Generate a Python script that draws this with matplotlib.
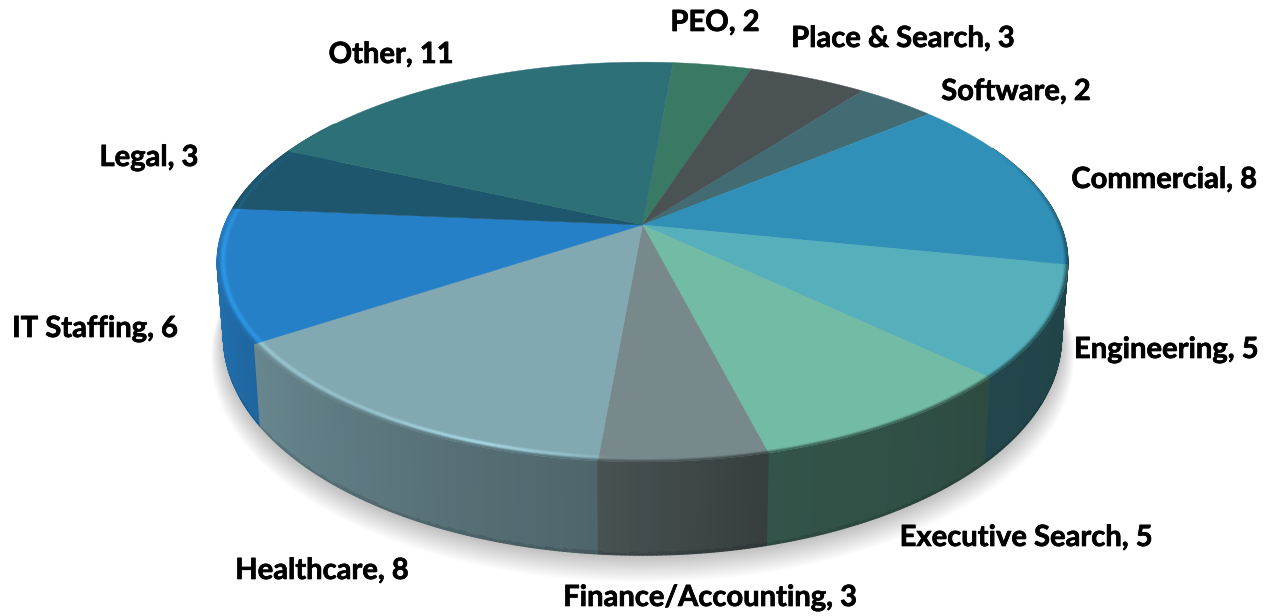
import numpy as np
from matplotlib import pyplot as plt
from matplotlib import patheffects
from matplotlib.collections import PolyCollection
from matplotlib.colors import to_rgb

etiquetas = ["PEO", "Place & Search", "Software", "Commercial", "Engineering", "Executive Search",
             "Finance/Accounting", "Healthcare", "IT Staffing", "Legal", "Other"]
valores = [2, 3, 2, 8, 5, 5, 3, 8, 6, 3, 11]
colores = ["#3a7a64", "#4a5254", "#436b74", "#3190b8", "#55b0bc", "#72bba4",
           "#78898b", "#82a8b2", "#2680c8", "#1e566e", "#2d7077"]
pos_etiquetas = [(715, 23), (903, 39), (1016, 92), (1164, 180), (1166, 350), (1026, 538),
                 (710, 598), (322, 571), (95, 329), (149, 158), (391, 55)]

# geometria del disco en perspectiva (pixeles de la imagen)
CX, CY = 642.5, 225
ANCHO, ALTO, PERSP = 418, 193, 0.185
INICIO = 85

# sombreado del lateral y del bisel segun el angulo
ANG_LADO = [-215, -162, -95, -76, -44, -11, 25]
FACTOR_LADO = [0.88, 0.86, 0.60, 0.45, 0.40, 0.38, 0.38]
ANG_BRILLO = [-215, -190, -170, -150, -125, -108, -98, -92, 30]
BRILLO = [0.0, 0.35, 0.55, 0.5, 0.45, 0.85, 0.35, 0.0, 0.0]
ANG_MEZCLA = [-215, -185, -165, -20, 0, 25]
MEZCLA = [0.0, 0.1, 1.0, 1.0, 0.55, 0.0]


def proyecta(ang, r=1.0):
    rad = np.radians(ang)
    u = r * np.cos(rad)
    v = r * np.sin(rad)
    w = 1 + PERSP * v
    return CX + ANCHO * u / w, CY - ALTO * v / w


def proyecta_abajo(ang):
    x, y = proyecta(ang)
    return CX + 0.985 * (x - CX), 430 + 1.09 * (y - 347)


def oscurece(color, factor):
    return tuple(np.array(to_rgb(color)) * factor)


fig = plt.figure(figsize=(12.73, 6.16), dpi=100)
ax = fig.add_axes([0, 0, 1, 1])
ax.set_xlim(0, 1273)
ax.set_ylim(616, 0)
ax.axis("off")

# limites de cada porcion, en sentido horario
unidad = 360 / sum(valores)
limites = INICIO - np.cumsum([0] + valores) * unidad

# sombra bajo el disco
ang_todo = np.linspace(0, 360, 361)
xs, ys = proyecta_abajo(ang_todo)
for k in range(16):
    esc = 1.0 + 0.002 * k
    ax.fill(CX + (xs - CX) * esc, 292 + (ys - 292) * esc + 1 + k * 1.2, color="#000000",
            alpha=0.016, lw=0, zorder=1)

# lateral
polis = []
cols = []
orden = []
for i in range(len(valores)):
    ini, fin = limites[i + 1], limites[i]
    n = max(int((fin - ini) * 2), 1)
    angulos = np.linspace(ini, fin, n + 1)
    for a, b in zip(angulos[:-1], angulos[1:]):
        for aa, bb in [(a, b), (a - 360, b - 360)]:
            if bb < -215 or aa > 25:
                continue
            x1, y1 = proyecta(aa)
            x2, y2 = proyecta(bb)
            x3, y3 = proyecta_abajo(bb)
            x4, y4 = proyecta_abajo(aa)
            f = np.interp((aa + bb) / 2, ANG_LADO, FACTOR_LADO)
            # el ultimo tramo abajo va algo mas oscuro
            xm1, ym1 = x1 + (x4 - x1) * 0.97, y1 + (y4 - y1) * 0.97
            xm2, ym2 = x2 + (x3 - x2) * 0.97, y2 + (y3 - y2) * 0.97
            s = np.sin(np.radians((aa + bb) / 2))
            polis.append([(x1, y1), (x2, y2), (xm2, ym2), (xm1, ym1)])
            cols.append(oscurece(colores[i], f))
            orden.append(-s)
            polis.append([(xm1, ym1), (xm2, ym2), (x3, y3), (x4, y4)])
            cols.append(oscurece(colores[i], f * 0.88))
            orden.append(-s)
idx = np.argsort(orden)
lado = PolyCollection([polis[j] for j in idx], facecolors=[cols[j] for j in idx],
                      edgecolors="face", linewidths=0.9, zorder=2)
ax.add_collection(lado)

# cara superior
for i in range(len(valores)):
    angulos = np.linspace(limites[i + 1], limites[i], 80)
    xr, yr = proyecta(angulos)
    ax.fill(np.r_[CX, xr], np.r_[CY, yr], color=colores[i], lw=0.3, zorder=3)

# bisel del borde
radios = np.linspace(0.979, 1.0, 8)
polis = []
cols = []
for i in range(len(valores)):
    ini, fin = limites[i + 1], limites[i]
    n = max(int((fin - ini) * 2), 1)
    angulos = np.linspace(ini, fin, n + 1)
    for a, b in zip(angulos[:-1], angulos[1:]):
        m = (a + b) / 2
        if m > 25:
            m = m - 360
        if m < -215 or m > 25:
            continue
        base = np.array(to_rgb(colores[i]))
        lado_col = base * np.interp(m, ANG_LADO, FACTOR_LADO)
        claro = np.minimum(base * 1.35, 1.0)
        h = np.interp(m, ANG_BRILLO, BRILLO)
        w = np.interp(m, ANG_MEZCLA, MEZCLA)
        for r1, r2 in zip(radios[:-1], radios[1:]):
            t = (r1 + r2 - 2 * radios[0]) / (2 * (radios[-1] - radios[0]))
            c = base + (claro - base) * h * np.sin(np.pi * min(t / 0.75, 1.0))
            if t > 0.55:
                c = c + (lado_col - c) * w * (t - 0.55) / 0.45
            x1, y1 = proyecta(a, r1)
            x2, y2 = proyecta(b, r1)
            x3, y3 = proyecta(b, r2)
            x4, y4 = proyecta(a, r2)
            polis.append([(x1, y1), (x2, y2), (x3, y3), (x4, y4)])
            cols.append(tuple(c))
bisel = PolyCollection(polis, facecolors=cols, edgecolors="face", linewidths=0.3, zorder=4)
ax.add_collection(bisel)

for nombre, valor, (xt, yt) in zip(etiquetas, valores, pos_etiquetas):
    texto = ax.text(xt, yt, f"{nombre}, {valor}", family="Lato", weight="bold", fontsize=21,
                    color="black", ha="center", va="center", zorder=5)
    texto.set_path_effects([patheffects.withStroke(linewidth=0.5, foreground="black")])

fig.savefig("out.png", dpi=100)
